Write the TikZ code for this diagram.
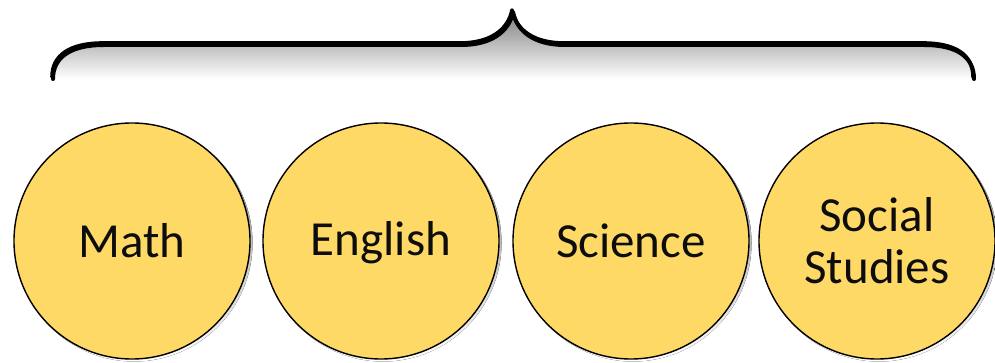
\documentclass[tikz,border=0pt]{standalone}
\usepackage{fontspec}
\setmainfont{Carlito}
\definecolor{gold}{HTML}{FFD966}
\definecolor{shade}{gray}{0.86}
\newcommand\tstrut{\rule[-5pt]{0pt}{43pt}}
\begin{document}
\begin{tikzpicture}[x=1pt,y=-1pt,
  subj/.style={circle, draw=black, line width=1.4pt, fill=gold, minimum size=236pt, inner sep=0pt,
    align=center, font=\fontsize{49}{52}\selectfont, text=black!95},
  bracestyle/.style={line width=3.6pt, line cap=round, line join=round}]
\useasboundingbox (0,0) rectangle (995,363);
\fill[white] (0,0) rectangle (995,363);
% soft shadow of brace
\draw[bracestyle, shade, line width=4pt] (53,79) .. controls (53,57) and (71,45) .. (104,45) -- (461,45)
  .. controls (491,45) and (509,32) .. (513,12) .. controls (517,32) and (535,45) .. (565,45) -- (924,45)
  .. controls (957,45) and (974,57) .. (974,79);
\draw[bracestyle] (52,77) .. controls (52,55) and (70,43) .. (103,43) -- (460,43)
  .. controls (490,43) and (508,30) .. (512,10) .. controls (516,30) and (534,43) .. (564,43) -- (923,43)
  .. controls (956,43) and (973,55) .. (973,77);
% shadows of circles
\foreach \cx in {132,381,631,877} \fill[shade] (\cx+2,243) circle (118.5);
\node[subj] (math) at (132,241) {\tstrut Math};
\node[subj] (english) at (381,241) {\tstrut English};
\node[subj] (science) at (631,241) {\tstrut Science};
\node[subj] (social) at (877,241) {\tstrut Social\\\tstrut Studies};
\end{tikzpicture}
\end{document}
